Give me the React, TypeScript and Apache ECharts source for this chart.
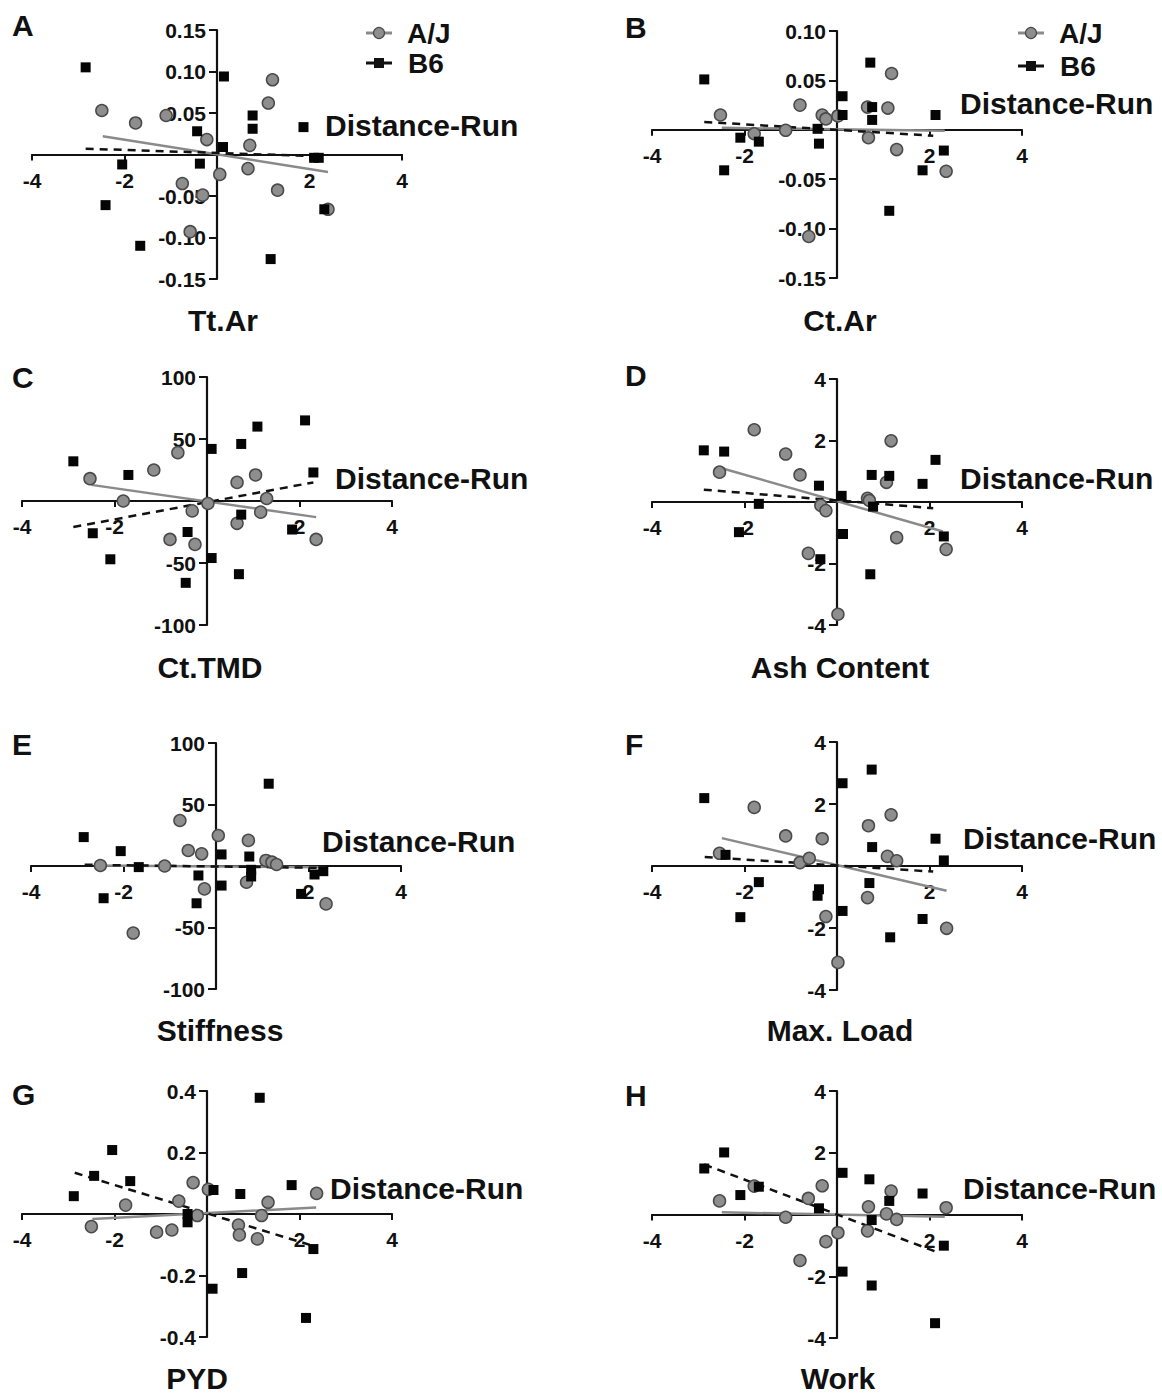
import React, { useEffect, useRef } from 'react';
import * as echarts from 'echarts';

// ---------- DATA (x = Distance-Run z-score, y = residual trait) ----------
const ajA = [[-2.49,0.053],[-1.76,0.038],[-1.10,0.047],[-0.22,0.018],[0.06,-0.024],[-0.75,-0.035],[-0.31,-0.049],[-0.58,-0.093],[0.71,0.011],[0.67,-0.017],[1.11,0.062],[1.20,0.090],[1.31,-0.043],[2.40,-0.066]];
const b6A = [[-2.84,0.105],[-2.41,-0.061],[-2.05,-0.012],[-1.66,-0.110],[-0.43,0.028],[-0.37,-0.011],[0.15,0.094],[0.13,0.009],[0.77,0.047],[0.77,0.031],[1.87,0.033],[1.16,-0.126],[2.10,-0.004],[2.20,-0.004],[2.32,-0.066]];
const fitAjA = [[-2.47,0.022],[2.40,-0.021]];
const fitB6A = [[-2.84,0.007],[2.13,-0.002]];

const ajB = [[-2.52,0.015],[-1.79,-0.004],[-1.11,-0.0005],[-0.80,0.025],[-0.32,0.015],[-0.24,0.011],[-0.61,-0.108],[0.02,0.014],[0.66,0.023],[0.68,-0.008],[1.10,0.022],[1.18,0.057],[1.29,-0.020],[2.36,-0.042]];
const b6B = [[-2.87,0.051],[-2.44,-0.041],[-2.09,-0.008],[-1.69,-0.012],[-0.42,0.001],[-0.39,-0.014],[0.12,0.034],[0.12,0.015],[0.72,0.068],[0.76,0.023],[0.76,0.010],[1.13,-0.082],[1.85,-0.041],[2.13,0.015],[2.31,-0.021]];
const fitAjB = [[-2.49,0.002],[2.33,-0.001]];
const fitB6B = [[-2.87,0.008],[2.08,-0.006]];

const ajC = [[-2.53,18],[-1.81,0],[-1.15,25],[-0.63,39],[-0.32,-8],[-0.80,-31],[-0.26,-35],[0.02,-2],[0.65,15],[0.65,-18],[1.05,21],[1.29,2],[1.16,-9],[2.36,-31]];
const b6C = [[-2.89,32],[-2.47,-26],[-2.09,-47],[-1.70,21],[-0.42,-25],[-0.46,-66],[0.10,42],[0.10,-46],[0.74,46],[0.74,-11],[0.69,-59],[1.09,60],[1.84,-23],[2.12,65],[2.30,23]];
const fitAjC = [[-2.50,13],[2.36,-13]];
const fitB6C = [[-2.89,-21],[2.30,15]];

const ajD = [[-2.54,0.97],[-1.79,2.35],[-1.11,1.56],[-0.80,0.88],[-0.35,-0.11],[-0.24,-0.28],[-0.62,-1.67],[0.02,-3.65],[0.66,0.12],[0.70,0.05],[1.07,0.64],[1.17,1.99],[1.29,-1.16],[2.36,-1.54]];
const b6D = [[-2.88,1.68],[-2.44,1.64],[-2.12,-0.98],[-1.69,-0.06],[-0.39,0.53],[-0.36,-1.86],[0.10,0.20],[0.13,-1.04],[0.75,0.88],[0.72,-2.35],[0.78,-0.15],[1.13,0.85],[1.85,0.59],[2.13,1.37],[2.31,-1.12]];
const fitAjD = [[-2.49,1.10],[2.29,-0.96]];
const fitB6D = [[-2.88,0.40],[2.08,-0.20]];

const ajE = [[-2.50,0.4],[-1.79,-54.5],[-1.11,0],[-0.78,37],[-0.60,12.6],[-0.31,9.9],[-0.25,-18.6],[0.05,24.8],[0.70,20.8],[0.66,-13.2],[1.08,4.5],[1.21,3.1],[1.31,1.2],[2.38,-30.8]];
const b6E = [[-2.86,23.5],[-2.43,-26.2],[-2.06,12.1],[-1.67,-0.9],[-0.38,-7.7],[-0.42,-30.3],[0.12,9.4],[0.12,-15.9],[0.72,7.7],[0.76,-3.1],[0.76,-8.5],[1.14,66.9],[1.84,-22.7],[2.13,-6.9],[2.32,-4.2]];
const fitAjE = [[-2.64,0.5],[2.38,-1]];
const fitB6E = [[-2.84,1],[2.30,-1.5]];

const ajF = [[-2.54,0.41],[-1.79,1.89],[-1.11,0.97],[-0.80,0.11],[-0.60,0.25],[-0.32,0.88],[-0.24,-1.63],[0.02,-3.11],[0.68,1.30],[0.66,-1.02],[1.09,0.31],[1.17,1.65],[1.29,0.17],[2.37,-2.01]];
const b6F = [[-2.87,2.19],[-2.41,0.36],[-1.69,-0.52],[-2.09,-1.65],[-0.39,-0.75],[-0.42,-0.96],[0.12,2.67],[0.12,-1.45],[0.75,3.11],[0.76,0.61],[0.70,-0.55],[1.15,-2.30],[1.85,-1.71],[2.13,0.88],[2.31,0.18]];
const fitAjF = [[-2.49,0.90],[2.37,-0.80]];
const fitB6F = [[-2.86,0.29],[2.08,-0.18]];

const ajG = [[-2.50,-0.041],[-1.76,0.029],[-1.09,-0.059],[-0.76,-0.052],[-0.61,0.042],[-0.30,0.102],[-0.21,-0.005],[0.03,0.080],[0.68,-0.036],[0.70,-0.068],[1.09,-0.081],[1.18,-0.005],[1.32,0.038],[2.37,0.067]];
const b6G = [[-2.88,0.058],[-2.44,0.124],[-2.05,0.208],[-1.66,0.107],[-0.42,0],[-0.42,-0.027],[0.14,0.078],[0.12,-0.243],[0.72,0.065],[0.76,-0.192],[1.14,0.378],[1.83,0.094],[2.14,-0.338],[2.30,-0.114]];
const fitAjG = [[-2.48,-0.016],[2.36,0.021]];
const fitB6G = [[-2.86,0.134],[2.28,-0.103]];

const ajH = [[-2.54,0.44],[-1.79,0.92],[-1.11,-0.09],[-0.80,-1.49],[-0.62,0.52],[-0.32,0.93],[-0.24,-0.88],[0.02,-0.59],[0.68,0.25],[0.66,-0.53],[1.07,0.02],[1.17,0.76],[1.29,-0.16],[2.36,0.22]];
const b6H = [[-2.87,1.49],[-2.44,2.01],[-2.09,0.63],[-1.69,0.90],[-0.39,0.20],[0.12,1.35],[0.12,-1.85],[0.70,1.14],[0.75,-0.18],[0.75,-2.30],[1.13,0.44],[1.85,0.68],[2.12,-3.52],[2.31,-1.01]];
const fitAjH = [[-2.49,0.07],[2.33,-0.07]];
const fitB6H = [[-2.87,1.62],[2.13,-1.20]];

const panelLetters = ['A', 'B', 'C', 'D', 'E', 'F', 'G', 'H'];
const traitNames = ['Tt.Ar', 'Ct.Ar', 'Ct.TMD', 'Ash Content', 'Stiffness', 'Max. Load', 'PYD', 'Work'];
// [min, max, interval, decimals]
const yRanges = [[-0.15, 0.15, 0.05, 2], [-0.15, 0.10, 0.05, 2], [-100, 100, 50, 0], [-4, 4, 2, 0], [-100, 100, 50, 0], [-4, 4, 2, 0], [-0.4, 0.4, 0.2, 1], [-4, 4, 2, 0]];
const xRange = [-4, 4, 2];
const seriesNames = ['A/J', 'B6'];
const xLabelText = 'Distance-Run';

const ajData = [ajA, ajB, ajC, ajD, ajE, ajF, ajG, ajH];
const b6Data = [b6A, b6B, b6C, b6D, b6E, b6F, b6G, b6H];
const ajFits = [fitAjA, fitAjB, fitAjC, fitAjD, fitAjE, fitAjF, fitAjG, fitAjH];
const b6Fits = [fitB6A, fitB6B, fitB6C, fitB6D, fitB6E, fitB6F, fitB6G, fitB6H];

// ---------- LAYOUT ----------
const grids = [
  { left: 32, top: 30, width: 370, height: 249 },
  { left: 652, top: 31, width: 370, height: 247 },
  { left: 22, top: 377, width: 370, height: 248 },
  { left: 652, top: 379, width: 370, height: 246 },
  { left: 31, top: 743, width: 370, height: 246 },
  { left: 652, top: 742, width: 370, height: 248 },
  { left: 22, top: 1091, width: 370, height: 246 },
  { left: 652, top: 1091, width: 370, height: 247 },
];
const titlePos = [[223, 320], [840, 320], [210, 667], [840, 667], [220, 1030], [840, 1030], [197, 1378], [838, 1378]];
const letterPos = [[12, 25], [625, 27], [12, 377], [625, 375], [12, 744], [625, 744], [12, 1094], [625, 1095]];
const drPos = [[325, 125], [960, 103], [335, 478], [960, 478], [322, 841], [963, 838], [330, 1188], [963, 1188]];
const legendPos = [[366, 33, 63], [1018, 33, 66]];

const FONT = '"Liberation Sans", Arial, Helvetica, sans-serif';
const AJ_FILL = '#8e8e8e';
const AJ_STROKE = '#4a4a4a';
const AJ_LINE = '#8a8a8a';
const INK = '#111111';

const labelStyle = { fontSize: 21, fontWeight: 'bold', fontFamily: FONT, color: INK };

function buildOption() {
  const n = grids.length;
  const gridList: any[] = [];
  const xAxis: any[] = [];
  const yAxis: any[] = [];
  const series: any[] = [];
  const graphic: any[] = [];

  // main plotting grids (0..n-1)
  grids.forEach((g) => gridList.push({ ...g }));
  // y-axis grids (n..2n-1): left edge at x = 0
  grids.forEach((g) => gridList.push({ left: g.left + g.width * (0 - xRange[0]) / (xRange[1] - xRange[0]), top: g.top, width: 1, height: g.height }));
  // x-axis grids (2n..3n-1): bottom edge at y = 0
  grids.forEach((g, i) => {
    const [ymin, ymax] = yRanges[i];
    gridList.push({ left: g.left, top: g.top, width: g.width, height: g.height * ymax / (ymax - ymin) });
  });

  const hiddenX = (gi: number) => ({ type: 'value', gridIndex: gi, min: xRange[0], max: xRange[1], show: false, splitLine: { show: false } });
  const hiddenY = (gi: number, i: number) => ({ type: 'value', gridIndex: gi, min: yRanges[i][0], max: yRanges[i][1], show: false, splitLine: { show: false } });

  grids.forEach((g, i) => { xAxis[i] = hiddenX(i); yAxis[i] = hiddenY(i, i); });
  grids.forEach((g, i) => {
    const [ymin, ymax, yint, dec] = yRanges[i];
    xAxis[n + i] = { ...hiddenX(n + i), min: -1, max: 1 };
    yAxis[n + i] = {
      type: 'value', gridIndex: n + i, position: 'left', min: ymin, max: ymax, interval: yint,
      splitLine: { show: false },
      axisLine: { show: true, onZero: false, lineStyle: { color: INK, width: 2.2 } },
      axisTick: { show: true, length: 8, lineStyle: { color: INK, width: 2 } },
      axisLabel: { ...labelStyle, margin: 11, formatter: (v: number) => (Math.abs(v) < 1e-9 ? '' : v.toFixed(dec)) },
    };
  });
  grids.forEach((g, i) => {
    const [ymin, ymax] = yRanges[i];
    xAxis[2 * n + i] = {
      type: 'value', gridIndex: 2 * n + i, position: 'bottom', min: xRange[0], max: xRange[1], interval: xRange[2],
      splitLine: { show: false },
      axisLine: { show: true, onZero: false, lineStyle: { color: INK, width: 2.2 } },
      axisTick: { show: true, length: 6, lineStyle: { color: INK, width: 2 } },
      axisLabel: { ...labelStyle, margin: 15, formatter: (v: number) => (Math.abs(v) < 1e-9 ? '' : String(v)) },
    };
    yAxis[2 * n + i] = { ...hiddenY(2 * n + i, i), min: 0, max: ymax };
  });

  grids.forEach((g, i) => {
    series.push({
      type: 'line', name: seriesNames[0] + ' fit', xAxisIndex: i, yAxisIndex: i, data: ajFits[i],
      symbol: 'none', z: 2, lineStyle: { color: AJ_LINE, width: 2.5 },
    });
    series.push({
      type: 'line', name: seriesNames[1] + ' fit', xAxisIndex: i, yAxisIndex: i, data: b6Fits[i],
      symbol: 'none', z: 2, lineStyle: { color: INK, width: 2.5, type: [8, 6] },
    });
    series.push({
      type: 'scatter', name: seriesNames[0], xAxisIndex: i, yAxisIndex: i, data: ajData[i],
      symbol: 'circle', symbolSize: 12, z: 3,
      itemStyle: { color: AJ_FILL, borderColor: AJ_STROKE, borderWidth: 1.5, opacity: 1 },
    });
    series.push({
      type: 'scatter', name: seriesNames[1], xAxisIndex: i, yAxisIndex: i, data: b6Data[i],
      symbol: 'rect', symbolSize: 10, z: 4,
      itemStyle: { color: '#050505', opacity: 1 },
    });

    graphic.push({
      type: 'text', x: letterPos[i][0], y: letterPos[i][1], z: 10,
      style: { text: panelLetters[i], fontSize: 30, fontWeight: 'bold', fontFamily: FONT, fill: INK, align: 'left', verticalAlign: 'middle' },
    });
    graphic.push({
      type: 'text', x: titlePos[i][0], y: titlePos[i][1], z: 10,
      style: { text: traitNames[i], fontSize: 30, fontWeight: 'bold', fontFamily: FONT, fill: INK, align: 'center', verticalAlign: 'middle' },
    });
    graphic.push({
      type: 'text', x: drPos[i][0], y: drPos[i][1], z: 10,
      style: { text: xLabelText, fontSize: 30, fontWeight: 'bold', fontFamily: FONT, fill: INK, align: 'left', verticalAlign: 'middle' },
    });
  });

  legendPos.forEach(([lx, y1, y2]) => {
    graphic.push({ type: 'line', z: 10, shape: { x1: lx, y1: y1, x2: lx + 26, y2: y1 }, style: { stroke: AJ_LINE, lineWidth: 3 } });
    graphic.push({ type: 'circle', z: 11, shape: { cx: lx + 13, cy: y1, r: 5.5 }, style: { fill: AJ_FILL, stroke: AJ_STROKE, lineWidth: 1.2 } });
    graphic.push({
      type: 'text', x: lx + 41, y: y1, z: 10,
      style: { text: seriesNames[0], fontSize: 28, fontWeight: 'bold', fontFamily: FONT, fill: INK, align: 'left', verticalAlign: 'middle' },
    });
    graphic.push({ type: 'line', z: 10, shape: { x1: lx, y1: y2, x2: lx + 26, y2: y2 }, style: { stroke: INK, lineWidth: 3 } });
    graphic.push({ type: 'rect', z: 11, shape: { x: lx + 8, y: y2 - 5, width: 10, height: 10 }, style: { fill: INK } });
    graphic.push({
      type: 'text', x: lx + 42, y: y2, z: 10,
      style: { text: seriesNames[1], fontSize: 28, fontWeight: 'bold', fontFamily: FONT, fill: INK, align: 'left', verticalAlign: 'middle' },
    });
  });

  return {
    animation: false,
    backgroundColor: '#ffffff',
    grid: gridList,
    xAxis,
    yAxis,
    series,
    graphic,
  };
}

export default function App() {
  const ref = useRef<HTMLDivElement>(null);
  useEffect(() => {
    document.body.style.margin = '0';
    if (!ref.current) return;
    const chart = echarts.init(ref.current, null, { renderer: 'svg' });
    chart.setOption(buildOption());
    return () => chart.dispose();
  }, []);
  return <div ref={ref} style={{ position: 'absolute', left: 0, top: 0, width: 1162, height: 1398, background: '#fff' }} />;
}
